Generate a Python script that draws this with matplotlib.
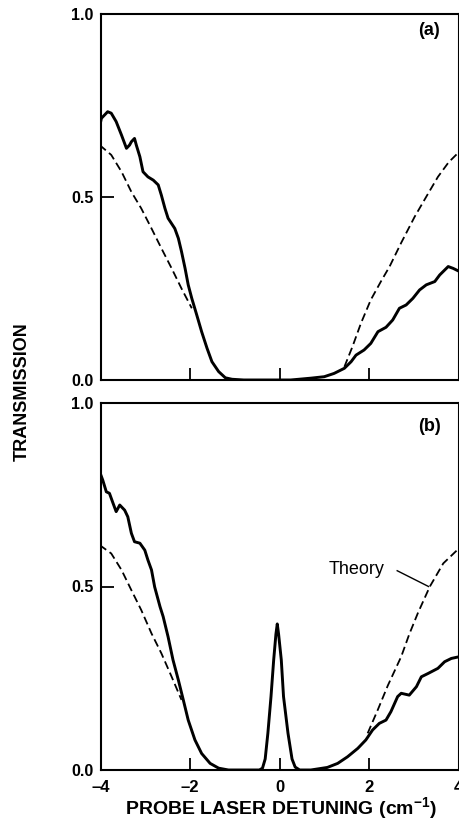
import matplotlib
matplotlib.use("Agg")
import matplotlib.pyplot as plt

plt.rcParams['font.family'] = ['Liberation Sans', 'DejaVu Sans']
plt.rcParams['mathtext.fontset'] = 'custom'
plt.rcParams['mathtext.rm'] = 'Liberation Sans:bold'
plt.rcParams['mathtext.default'] = 'rm'

# ---- panel (a): measured transmission ----
xa_meas = [-4.02, -3.98, -3.84, -3.76, -3.65, -3.53, -3.42, -3.35, -3.31, -3.24, -3.20,
           -3.12, -3.05, -2.94, -2.82, -2.71, -2.64, -2.56, -2.49, -2.34, -2.26, -2.19,
           -2.11, -2.04, -1.96, -1.85, -1.74, -1.62, -1.51, -1.36, -1.21, -1.06, -0.80,
           0.00, 0.25, 0.70, 1.00, 1.22, 1.45, 1.60, 1.71, 1.89, 2.04, 2.20, 2.38, 2.53,
           2.68, 2.83, 2.98, 3.13, 3.28, 3.47, 3.58, 3.77, 3.88, 4.03]
ta_meas = [0.692, 0.715, 0.733, 0.729, 0.706, 0.669, 0.633, 0.642, 0.651, 0.660, 0.642,
           0.610, 0.569, 0.555, 0.546, 0.533, 0.505, 0.469, 0.442, 0.414, 0.387, 0.351,
           0.305, 0.260, 0.223, 0.178, 0.132, 0.087, 0.050, 0.023, 0.006, 0.002, 0.000,
           0.000, 0.000, 0.005, 0.009, 0.018, 0.032, 0.050, 0.068, 0.082, 0.100, 0.132,
           0.144, 0.164, 0.196, 0.205, 0.223, 0.246, 0.260, 0.269, 0.287, 0.310, 0.305,
           0.296]

# ---- panel (a): theory ----
xa_th_left = [-4.02, -3.76, -3.53, -3.31, -3.09, -2.86, -2.64, -2.41, -2.19, -1.96]
ta_th_left = [0.642, 0.615, 0.569, 0.514, 0.469, 0.414, 0.360, 0.305, 0.250, 0.196]
xa_th_right = [1.45, 1.63, 1.82, 2.04, 2.27, 2.46, 2.72, 3.02, 3.30, 3.54, 3.78, 4.02]
ta_th_right = [0.036, 0.091, 0.155, 0.219, 0.270, 0.310, 0.375, 0.446, 0.505, 0.555,
               0.595, 0.624]

# ---- panel (b): measured transmission ----
xb_meas = [-4.02, -3.95, -3.87, -3.80, -3.72, -3.65, -3.57, -3.46, -3.39, -3.31, -3.24,
           -3.12, -3.01, -2.94, -2.86, -2.79, -2.67, -2.60, -2.49, -2.38, -2.26, -2.15,
           -2.04, -1.89, -1.74, -1.55, -1.36, -1.14,
           -0.45, -0.38, -0.32, -0.26, -0.19, -0.13, -0.08, -0.05, -0.02, 0.04, 0.09,
           0.19, 0.28, 0.35, 0.45,
           0.70, 1.07, 1.30, 1.52, 1.75, 1.93, 2.08, 2.23, 2.38, 2.49, 2.64, 2.72, 2.90,
           3.06, 3.17, 3.32, 3.54, 3.69, 3.84, 4.03]
tb_meas = [0.813, 0.790, 0.758, 0.754, 0.727, 0.704, 0.722, 0.708, 0.690, 0.645, 0.622,
           0.618, 0.599, 0.572, 0.545, 0.499, 0.445, 0.418, 0.363, 0.300, 0.245, 0.191,
           0.136, 0.082, 0.045, 0.018, 0.005, 0.000,
           0.000, 0.005, 0.030, 0.100, 0.200, 0.300, 0.370, 0.398, 0.370, 0.300, 0.200,
           0.100, 0.030, 0.008, 0.000,
           0.000, 0.007, 0.018, 0.036, 0.059, 0.082, 0.109, 0.127, 0.136, 0.159, 0.200,
           0.209, 0.204, 0.227, 0.254, 0.263, 0.277, 0.295, 0.304, 0.309]

# ---- panel (b): theory ----
xb_th_left = [-4.02, -3.76, -3.53, -3.31, -3.09, -2.86, -2.64, -2.41, -2.19]
tb_th_left = [0.613, 0.590, 0.545, 0.490, 0.436, 0.372, 0.318, 0.254, 0.191]
xb_th_right = [1.97, 2.20, 2.42, 2.72, 2.90, 3.09, 3.36, 3.66, 4.02]
tb_th_right = [0.100, 0.165, 0.230, 0.309, 0.370, 0.427, 0.500, 0.563, 0.605]

x_ticks = [-4, -2, 0, 2, 4]
x_ticklabels = ['\u20134', '\u20132', '0', '2', '4']
y_ticks = [0.0, 0.5, 1.0]
y_ticklabels = ['0.0', '0.5', '1.0']

W, H = 459, 825
fig = plt.figure(figsize=(W / 100, H / 100), dpi=100)

left = 100.5 / W
width = (458.5 - 100.5) / W
ax_a = fig.add_axes([left, (H - 380) / H, width, 366 / H])
ax_b = fig.add_axes([left, (H - 770) / H, width, 367 / H])

for ax in (ax_a, ax_b):
    ax.set_xlim(-4, 4)
    ax.set_ylim(0, 1)
    for s in ax.spines.values():
        s.set_linewidth(1.5)
    ax.set_xticks(x_ticks)
    ax.set_yticks(y_ticks)
    ax.set_yticklabels(y_ticklabels, fontsize=11.5, fontweight='bold')
    ax.tick_params(direction='in', length=9, width=1.3, pad=5)
    ax.tick_params(axis='x', pad=7)

ax_a.set_xticklabels([])
ax_b.set_xticklabels(x_ticklabels, fontsize=12, fontweight='bold')

solid_kw = dict(color='black', lw=2.1, solid_joinstyle='round')
dash_kw = dict(color='black', lw=1.3, dashes=(4.5, 2.3))

ax_a.plot(xa_meas, ta_meas, **solid_kw)
ax_a.plot(xa_th_left, ta_th_left, **dash_kw)
ax_a.plot(xa_th_right, ta_th_right, **dash_kw)

ax_b.plot(xb_meas, tb_meas, **solid_kw)
ax_b.plot(xb_th_left, tb_th_left, **dash_kw)
ax_b.plot(xb_th_right, tb_th_right, **dash_kw)

ax_a.text(0.918, 0.956, '(a)', transform=ax_a.transAxes, ha='center', va='center',
          fontsize=13, fontweight='bold')
ax_b.text(0.918, 0.937, '(b)', transform=ax_b.transAxes, ha='center', va='center',
          fontsize=13, fontweight='bold')

ax_b.text(1.73, 0.545, 'Theory', ha='center', va='center', fontsize=13)
ax_b.plot([2.63, 3.33], [0.543, 0.500], color='black', lw=1.0)

fig.text(22 / W, 1 - 392 / H, 'TRANSMISSION', rotation=90, ha='center', va='center',
         fontsize=13, fontweight='bold')
fig.text(281 / W, 1 - 808 / H, 'PROBE LASER DETUNING (cm$^{-1}$)', ha='center',
         va='center', fontsize=14, fontweight='bold')

fig.savefig('out.png', dpi=100)
